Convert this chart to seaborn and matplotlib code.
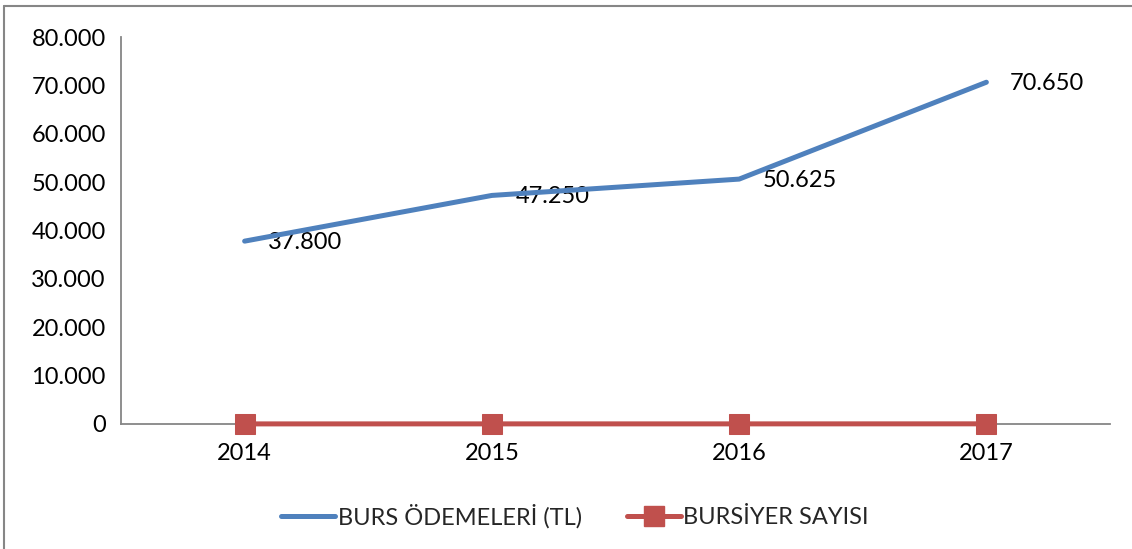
import numpy as np
import pandas as pd
import matplotlib
matplotlib.use('Agg')
import matplotlib.pyplot as plt
import seaborn as sns
from matplotlib.lines import Line2D

# data
years = ['2014', '2015', '2016', '2017']
burs_odemeleri = [37800, 47250, 50625, 70650]
bursiyer_sayisi = [21, 27, 27, 35]
y_ticks = [0, 10000, 20000, 30000, 40000, 50000, 60000, 70000, 80000]

sns.set_style('white')
plt.rcParams['font.family'] = ['Lato', 'DejaVu Sans']

blue = '#4F81BD'
red = '#C0504D'
axis_gray = '#868686'
fs = 17

df = pd.DataFrame({'Yil': years, 'Burs': burs_odemeleri, 'Bursiyer': bursiyer_sayisi})
df['x'] = np.arange(len(years)) + 0.5

fig = plt.figure(figsize=(11.32, 5.49), dpi=100)
ax = fig.add_axes([121 / 1132, 1 - 424 / 549, (1110 - 121) / 1132, (424 - 37) / 549])

sns.lineplot(data=df, x='x', y='Burs', ax=ax, color=blue, linewidth=3.6,
             solid_capstyle='round', legend=False, zorder=4)
sns.lineplot(data=df, x='x', y='Bursiyer', ax=ax, color=red, linewidth=3.6,
             marker='s', markersize=14, markeredgecolor=red, legend=False,
             clip_on=False, zorder=5)

for xv, yv in zip(df['x'], df['Burs']):
    lbl = f'{yv:,}'.replace(',', '.')
    ax.annotate(lbl, (xv, yv), xytext=(17, -1), textcoords='offset points',
                ha='left', va='center', fontsize=fs, color='black')

ax.set_xlim(0, len(years))
ax.set_ylim(0, 80000)
ax.set_xticks(df['x'])
ax.set_xticklabels(years)
ax.set_yticks(y_ticks)
ax.set_yticklabels([f'{v:,}'.replace(',', '.') for v in y_ticks])
ax.tick_params(axis='both', length=0, labelsize=fs, colors='black')
ax.tick_params(axis='y', pad=11)
ax.tick_params(axis='x', pad=14)
ax.set_xlabel('')
ax.set_ylabel('')
for s in ['top', 'right']:
    ax.spines[s].set_visible(False)
for s in ['left', 'bottom']:
    ax.spines[s].set_color(axis_gray)
    ax.spines[s].set_linewidth(1.3)
    ax.spines[s].set_zorder(1)
ax.grid(False)

handles = [
    Line2D([], [], color=blue, linewidth=3.6, solid_capstyle='round'),
    Line2D([], [], color=red, linewidth=3.6, marker='s', markersize=14),
]
fig.legend(handles, ['BURS ÖDEMELERİ (TL)', 'BURSİYER SAYISI'],
           loc='center', bbox_to_anchor=(0.508, 1 - 516 / 549), ncol=2,
           frameon=False, fontsize=fs, handlelength=2.3, handletextpad=0.1,
           columnspacing=1.9)

# figure border (left and top visible)
fig.add_artist(Line2D([4 / 1132, 4 / 1132], [0, 1 - 6 / 549], transform=fig.transFigure,
                      color=axis_gray, linewidth=1.5))
fig.add_artist(Line2D([4 / 1132, 1], [1 - 6 / 549, 1 - 6 / 549], transform=fig.transFigure,
                      color=axis_gray, linewidth=1.5))

fig.savefig('out.png', dpi=100)
